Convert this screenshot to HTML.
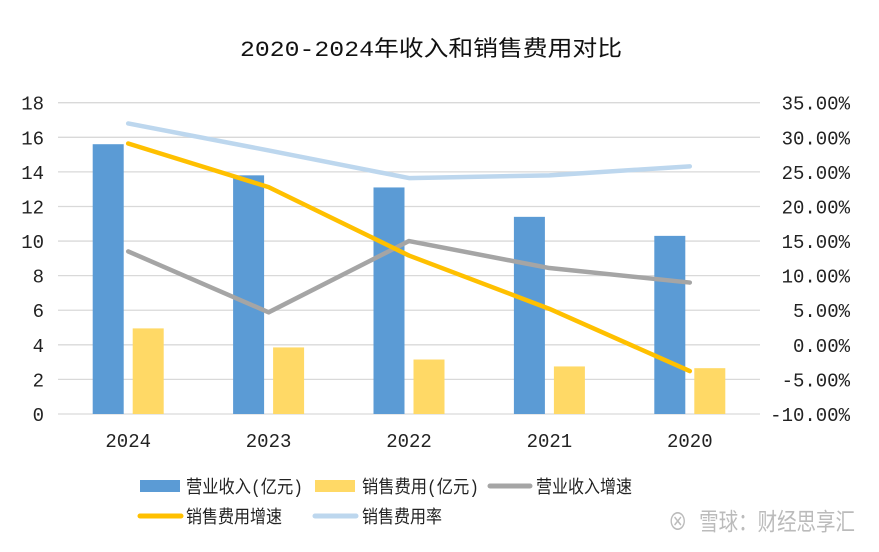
<!DOCTYPE html>
<html><head><meta charset="utf-8"><style>
body{margin:0;background:#fff;}
svg text{font-family:"Liberation Mono","Noto Sans CJK SC",monospace;}
.cjk{font-family:"Liberation Mono","WenQuanYi Zen Hei","Noto Sans CJK SC",sans-serif;}
</style></head><body>
<svg id="chart" width="879" height="547" viewBox="0 0 879 547" xmlns="http://www.w3.org/2000/svg">
<rect width="879" height="547" fill="#fff"/>
<text class="cjk" x="240" y="56" textLength="382" lengthAdjust="spacingAndGlyphs" font-size="22" fill="#111">2020-2024年收入和销售费用对比</text>
<g id="grid"></g><g id="bars"></g><g id="lines"></g><g id="axes"></g>
<g class="cjk" font-size="18" fill="#222">
<rect x="140" y="480" width="40" height="12" fill="#5b9bd5"/>
<text x="186" y="493" textLength="117" lengthAdjust="spacingAndGlyphs">营业收入(亿元)</text>
<rect x="315" y="480" width="40" height="12" fill="#ffd966"/>
<text x="362" y="493" textLength="117" lengthAdjust="spacingAndGlyphs">销售费用(亿元)</text>
<line x1="490" y1="486" x2="530" y2="486" stroke="#a5a5a5" stroke-width="5" stroke-linecap="round"/>
<text x="536" y="493" textLength="96" lengthAdjust="spacingAndGlyphs">营业收入增速</text>
<line x1="140" y1="516" x2="181" y2="516" stroke="#ffc000" stroke-width="5" stroke-linecap="round"/>
<text x="186" y="523" textLength="96" lengthAdjust="spacingAndGlyphs">销售费用增速</text>
<line x1="315" y1="516" x2="356" y2="516" stroke="#bdd7ee" stroke-width="5" stroke-linecap="round"/>
<text x="362" y="523" textLength="80" lengthAdjust="spacingAndGlyphs">销售费用率</text>
</g>
<text class="cjk" x="668" y="530" font-size="24" fill="#bbb" textLength="187" lengthAdjust="spacingAndGlyphs">⊗ 雪球：财经思享汇</text>
</svg>
<script>
const categories=["2024","2023","2022","2021","2020"];
const revenue=[15.6,13.8,13.1,11.4,10.3];
const salesExpense=[4.95,3.85,3.15,2.75,2.65];
const revenueGrowth=[13.5,4.7,15.0,11.1,9.0];
const expenseGrowth=[29.1,22.8,12.9,5.2,-3.8];
const expenseRate=[32.0,28.1,24.1,24.5,25.8];
const leftTicks=[0,2,4,6,8,10,12,14,16,18];
const rightTicks=[-10,-5,0,5,10,15,20,25,30,35];

const NS="http://www.w3.org/2000/svg";
const L=58,R=760,T=102.7,B=414;
const band=(R-L)/categories.length;
const xC=i=>L+band*(i+0.5);
const yL=v=>B-(v-0)/(18-0)*(B-T);
const yR=v=>B-(v+10)/(45)*(B-T);
function mk(tag,attrs,parent){const e=document.createElementNS(NS,tag);for(const k in attrs)e.setAttribute(k,attrs[k]);document.getElementById(parent).appendChild(e);return e;}

leftTicks.forEach((t,i)=>{
  const g=mk('line',{x1:L,x2:R,y1:yL(t),y2:yL(t),stroke:'#d9d9d9','stroke-width':1.3},'grid');
  
  
  const tx=mk('text',{x:44,y:yL(t)+7,'text-anchor':'end','font-size':19,fill:'#222'},'axes');
  tx.textContent=t;
  
  
});
rightTicks.forEach(t=>{
  const tx=mk('text',{x:850,y:yR(t)+7,'text-anchor':'end','font-size':19,fill:'#222'},'axes');
  tx.textContent=t.toFixed(2)+'%';
  
  
});
categories.forEach((c,i)=>{
  const tx=mk('text',{x:xC(i),y:447,'text-anchor':'middle','font-size':19,fill:'#222'},'axes');
  tx.textContent=c;
  
  
  const b1=mk('rect',{x:xC(i)-35.5,y:yL(revenue[i]),width:31,height:B-yL(revenue[i]),fill:'#5b9bd5'},'bars');
  
  
  const b2=mk('rect',{x:xC(i)+4.5,y:yL(salesExpense[i]),width:31,height:B-yL(salesExpense[i]),fill:'#ffd966'},'bars');
  
  
});
[[expenseRate,'#bdd7ee','line-expense-rate'],[revenueGrowth,'#a5a5a5','line-revenue-growth'],[expenseGrowth,'#ffc000','line-expense-growth']].forEach(([d,col,n])=>{
  const p=mk('polyline',{points:d.map((v,i)=>xC(i)+','+yR(v)).join(' '),fill:'none',stroke:col,'stroke-width':4.5,'stroke-linejoin':'round','stroke-linecap':'round'},'lines');
  
  
});
</script>
</body></html>
